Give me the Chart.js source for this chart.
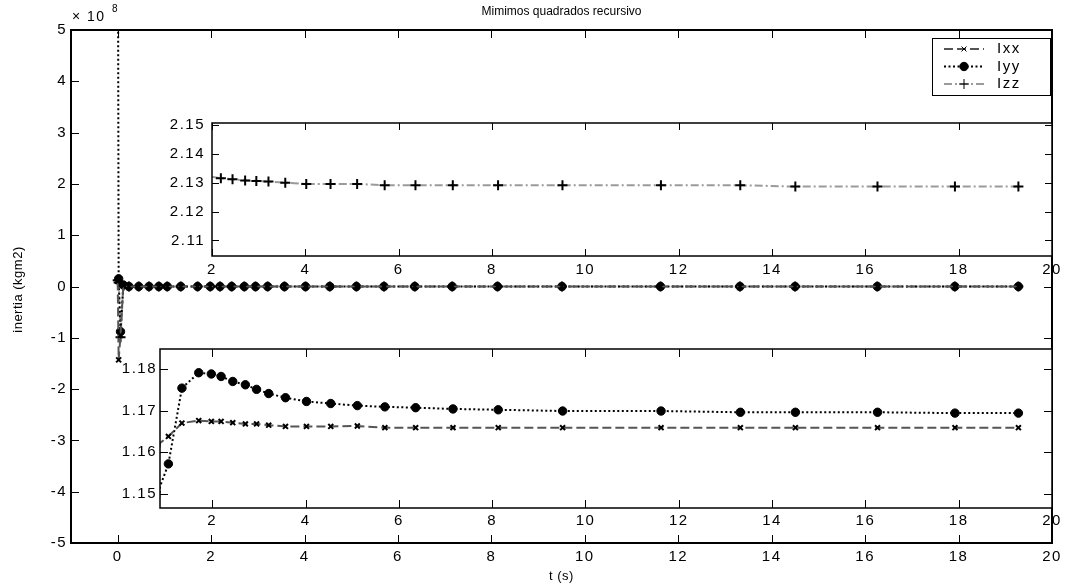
<!DOCTYPE html>
<html>
<head>
<meta charset="utf-8">
<script src="https://cdn.jsdelivr.net/npm/chart.js@4/dist/chart.umd.min.js"></script>
<style>
  body { margin: 0; background: #fff; }
  #wrap { position: relative; width: 1066px; height: 587px; }
  canvas { position: absolute; }
</style>
</head>
<body>
<div id="wrap">
  <canvas id="mainChart" width="1066" height="587" style="left:0;top:0"></canvas>
  <canvas id="insetTop" width="966" height="190" style="left:100px;top:100px"></canvas>
  <canvas id="insetBottom" width="966" height="200" style="left:100px;top:330px"></canvas>
</div>
<script>
// tempo (s)
const t = [0, 0.02, 0.06, 0.12, 0.24, 0.45, 0.67, 0.88, 1.06, 1.35, 1.71, 1.98, 2.19, 2.44, 2.71, 2.95,
  3.21, 3.57, 4.02, 4.54, 5.11, 5.70, 6.36, 7.16, 8.13, 9.51, 11.62, 13.32, 14.50, 16.26, 17.92, 19.28];

// estimativas das inercias (kgm2)
const ixx = [1.0e7, -1.43e8, -9.5e7, 2e6, 0.95, 1.08, 1.13, 1.1622, 1.1638, 1.1670, 1.1676, 1.1674,
  1.1674, 1.1671, 1.1668, 1.1668, 1.1665, 1.1662, 1.1662, 1.1662, 1.1663, 1.1659, 1.1659, 1.1659,
  1.1659, 1.1659, 1.1659, 1.1659, 1.1659, 1.1659, 1.1659, 1.1659];
const iyy = [9e8, 1.5e7, -8.8e7, 3e6, 0.95, 1.05, 1.12, 1.1517, 1.1572, 1.1754, 1.1791, 1.1788,
  1.1782, 1.1770, 1.1762, 1.1751, 1.1741, 1.1731, 1.1722, 1.1717, 1.1712, 1.1709, 1.1707, 1.1704,
  1.1702, 1.1699, 1.1699, 1.1696, 1.1696, 1.1696, 1.1694, 1.1694];
const izz = [1.2e7, 8e6, -9.9e7, 1e6, 2.05, 2.09, 2.11, 2.122, 2.127, 2.130, 2.1318, 2.1321,
  2.13156, 2.13121, 2.13073, 2.13062, 2.13038, 2.13003, 2.12958, 2.12958, 2.12958, 2.12913, 2.12913, 2.12913,
  2.12913, 2.12913, 2.12913, 2.12913, 2.12865, 2.12865, 2.12865, 2.12865];

// ticks
const mainXTicks = [0, 2, 4, 6, 8, 10, 12, 14, 16, 18, 20];
const mainYTicks = [-5e8, -4e8, -3e8, -2e8, -1e8, 0, 1e8, 2e8, 3e8, 4e8, 5e8];
const insetXTicks = [2, 4, 6, 8, 10, 12, 14, 16, 18, 20];
const topYTicks = [2.11, 2.12, 2.13, 2.14, 2.15];
const bottomYTicks = [1.15, 1.16, 1.17, 1.18];

const FAMILY = '"Liberation Sans", Arial, sans-serif';
const FONT = { family: FAMILY, size: 15 };
const SPACING = '1.5px';

// estilos de cada serie (como no matlab)
const styles = {
  Ixx: { borderColor: '#555', borderDash: [9, 4], pointStyle: 'crossRot', pointRadius: 3.5, pointBorderWidth: 2 },
  Iyy: { borderColor: '#000', borderDash: [2, 2.5], pointStyle: 'circle', pointRadius: 4.2, pointBorderWidth: 1 },
  Izz: { borderColor: '#9a9a9a', borderDash: [8, 3, 2, 3], pointStyle: 'cross', pointRadius: 5, pointBorderWidth: 2 }
};

function makeDataset(label, values, xMin) {
  const s = styles[label];
  return {
    label: label,
    data: t.map((v, i) => ({ x: v, y: values[i] })),
    borderColor: s.borderColor,
    borderWidth: 2,
    borderDash: s.borderDash,
    pointStyle: s.pointStyle,
    pointRadius: ctx => (xMin !== undefined && ctx.raw && ctx.raw.x < xMin + 0.01) ? 0 : s.pointRadius,
    pointBorderWidth: s.pointBorderWidth,
    pointBorderColor: '#000',
    pointBackgroundColor: '#000',
    tension: 0,
    clip: 0
  };
}

function fixedTicks(list) {
  return scale => { scale.ticks = list.map(v => ({ value: v })); };
}

// caixa com ticks para dentro, estilo matlab
const matlabAxes = {
  id: 'matlabAxes',
  beforeDraw(chart) {
    chart.ctx.letterSpacing = SPACING;
  },
  beforeDatasetsDraw(chart) {
    const a = chart.chartArea, c = chart.ctx;
    c.save();
    c.fillStyle = '#fff';
    c.fillRect(a.left, a.top, a.right - a.left, a.bottom - a.top);
    c.restore();
  },
  afterDatasetsDraw(chart, args, opts) {
    const a = chart.chartArea, c = chart.ctx, len = opts.tickLength || 8;
    const sx = chart.scales.x, sy = chart.scales.y;
    c.save();
    c.strokeStyle = '#000';
    c.lineWidth = 1;
    sx.ticks.forEach(tk => {
      const px = Math.round(sx.getPixelForValue(tk.value)) + 0.5;
      c.beginPath();
      c.moveTo(px, a.bottom); c.lineTo(px, a.bottom - len);
      c.moveTo(px, a.top); c.lineTo(px, a.top + len);
      c.stroke();
    });
    sy.ticks.forEach(tk => {
      const py = Math.round(sy.getPixelForValue(tk.value)) + 0.5;
      c.beginPath();
      c.moveTo(a.left, py); c.lineTo(a.left + len, py);
      c.moveTo(a.right, py); c.lineTo(a.right - len, py);
      c.stroke();
    });
    c.lineWidth = opts.lineWidth || 1.5;
    c.strokeRect(a.left, a.top, a.right - a.left, a.bottom - a.top);
    c.restore();
  }
};

// titulos, expoente e legenda do grafico principal
const mainDecor = {
  id: 'mainDecor',
  afterDraw(chart) {
    const a = chart.chartArea, c = chart.ctx;
    const midX = (a.left + a.right) / 2, midY = (a.top + a.bottom) / 2;
    c.save();
    c.letterSpacing = '0px';
    c.fillStyle = '#000';
    c.font = '12px ' + FAMILY;
    c.textAlign = 'center';
    c.textBaseline = 'middle';
    c.fillText('Mimimos quadrados recursivo', midX, 12);
    c.letterSpacing = '0.5px';
    c.font = '13px ' + FAMILY;
    c.fillText('t (s)', midX, 576);
    c.save();
    c.translate(18, midY + 3);
    c.rotate(-Math.PI / 2);
    c.fillText('inertia (kgm2)', 0, 0);
    c.restore();

    c.textAlign = 'left';
    c.letterSpacing = '1.5px';
    c.font = '14px ' + FAMILY;
    c.fillText('\u00d7 10', 72, 17);
    c.font = '10px ' + FAMILY;
    c.fillText('8', 112, 9);

    // legenda
    const bx = 932, by = 38, bw = 118, bh = 57;
    c.fillStyle = '#fff';
    c.fillRect(bx, by, bw, bh);
    c.strokeStyle = '#000';
    c.lineWidth = 1;
    c.strokeRect(bx + 0.5, by + 0.5, bw, bh);
    const rows = [['Ixx', 49], ['Iyy', 66.5], ['Izz', 84]];
    rows.forEach(([name, y]) => {
      const s = styles[name];
      c.save();
      c.strokeStyle = s.borderColor;
      c.lineWidth = 2;
      c.setLineDash(s.borderDash);
      c.beginPath();
      c.moveTo(944, y); c.lineTo(984, y);
      c.stroke();
      c.restore();
      c.fillStyle = '#000';
      c.strokeStyle = '#000';
      Chart.helpers.drawPoint(c, { pointStyle: s.pointStyle, radius: s.pointRadius, borderWidth: s.pointBorderWidth }, 964, y);
      c.fillStyle = '#000';
      c.font = '15px ' + FAMILY;
      c.letterSpacing = '1.5px';
      c.textAlign = 'left';
      c.textBaseline = 'middle';
      c.fillText(name, 997, y);
    });
    c.restore();
  }
};

function axisOpts(min, max, ticks, size, isX, fmt, pad) {
  return {
    type: 'linear',
    min: min,
    max: max,
    afterBuildTicks: fixedTicks(ticks),
    afterFit: scale => { if (isX) scale.height = size; else scale.width = size; },
    grid: { display: false, drawTicks: false },
    border: { display: false },
    ticks: { color: '#000', font: FONT, padding: pad, autoSkip: false, maxRotation: 0, callback: fmt }
  };
}

window.onload = function() {
  Chart.defaults.animation = false;

  new Chart(document.getElementById('mainChart'), {
    type: 'line',
    data: { datasets: [makeDataset('Ixx', ixx), makeDataset('Iyy', iyy), makeDataset('Izz', izz)] },
    options: {
      responsive: false,
      devicePixelRatio: 1,
      layout: { padding: { top: 30, right: 14, left: 0, bottom: 0 } },
      plugins: { legend: { display: false }, tooltip: { enabled: false }, matlabAxes: { tickLength: 8, lineWidth: 2 } },
      scales: {
        x: axisOpts(-1, 20, mainXTicks, 44, true, v => v, 5),
        y: axisOpts(-5e8, 5e8, mainYTicks, 71, false, v => v / 1e8, 4)
      }
    },
    plugins: [matlabAxes, mainDecor]
  });

  // detalhe de Izz
  new Chart(document.getElementById('insetTop'), {
    type: 'line',
    data: { datasets: [makeDataset('Izz', izz, 2)] },
    options: {
      responsive: false,
      devicePixelRatio: 1,
      layout: { padding: { top: 23, right: 14, left: 0, bottom: 0 } },
      plugins: { legend: { display: false }, tooltip: { enabled: false }, matlabAxes: { tickLength: 7, lineWidth: 1.5 } },
      scales: {
        x: axisOpts(2, 20, insetXTicks, 34, true, v => v, 5),
        y: axisOpts(2.1046, 2.1507, topYTicks, 112, false, v => v.toFixed(2), 7)
      }
    },
    plugins: [matlabAxes]
  });

  // detalhe de Ixx e Iyy
  new Chart(document.getElementById('insetBottom'), {
    type: 'line',
    data: { datasets: [makeDataset('Ixx', ixx, 0.88), makeDataset('Iyy', iyy, 0.88)] },
    options: {
      responsive: false,
      devicePixelRatio: 1,
      layout: { padding: { top: 19, right: 14, left: 0, bottom: 0 } },
      plugins: { legend: { display: false }, tooltip: { enabled: false }, matlabAxes: { tickLength: 8, lineWidth: 1.5 } },
      scales: {
        x: axisOpts(0.88, 20, insetXTicks, 22, true, v => v, 4),
        y: axisOpts(1.1466, 1.1848, bottomYTicks, 60, false, v => v.toFixed(2), 3)
      }
    },
    plugins: [matlabAxes]
  });
};
</script>
</body>
</html>
